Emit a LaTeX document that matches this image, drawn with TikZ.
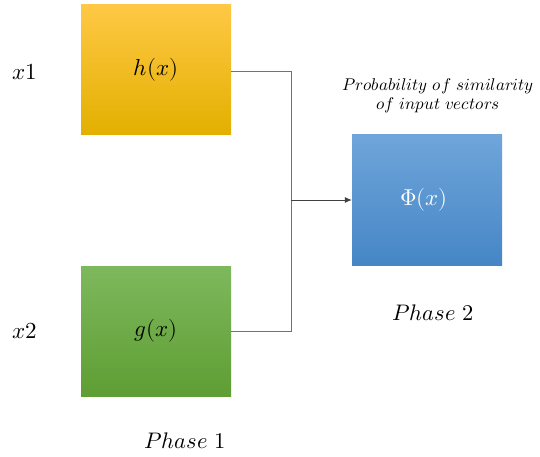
\documentclass[tikz,border=0pt]{standalone}
\usepackage{unicode-math}
\setmathfont{Latin Modern Math}
\usetikzlibrary{arrows.meta}
\begin{document}
\begin{tikzpicture}[x=1pt,y=-1pt,
  fbox/.style={minimum width=150pt,minimum height=130pt,inner sep=0pt,draw=none},
  ybox/.style={fbox,top color=yorange1,middle color=yorange2,bottom color=yorange3},
  gbox/.style={fbox,top color=ggreen1,bottom color=ggreen2},
  bbox/.style={fbox,top color=bblue1,bottom color=bblue2},
  lab/.style={font=\fontsize{23}{25}\selectfont},
  phase/.style={font=\fontsize{22.5}{24}\selectfont},
  conn/.style={draw=gray!90!black,line width=0.8pt}]
\definecolor{yorange1}{HTML}{FFC845}
\definecolor{yorange2}{HTML}{FFC000}
\definecolor{yorange3}{HTML}{E2B000}
\definecolor{ggreen1}{HTML}{7EB85D}
\definecolor{ggreen2}{HTML}{5E9E33}
\definecolor{bblue1}{HTML}{6FA5DA}
\definecolor{bblue2}{HTML}{4686C6}
\useasboundingbox (0,0) rectangle (540,457);
\node[ybox] (h) at (156,70) {};
\node[lab] at (156,70) {$h(x)$};
\node[gbox] (g) at (156,331) {};
\node[lab] at (156,331) {$g(x)$};
\node[bbox] (p) at (427,200) {};
\node[lab,text=white] at (424,200) {$\Phi(x)$};
\node[lab] (x1) at (25,72) {$x1$};
\node[lab] (x2) at (25,331) {$x2$};
\node[font=\fontsize{17}{20}\selectfont,align=center] (prob) at (438,96) {$Probability\ of\ similarity$\\[-1pt]$of\ input\ vectors$};
\node[phase] (ph2) at (433,313) {$Phase\ 2$};
\node[phase] (ph1) at (185,441) {$Phase\ 1$};
\coordinate (j) at (291,200);
\draw[conn] (h.east |- 0,71) -| (j);
\draw[conn] (g.east) -| (j);
\draw[draw=black!75,line width=0.8pt,-{Latex[length=7pt,width=6pt]}] (j) -- (p.west);
\end{tikzpicture}
\end{document}
